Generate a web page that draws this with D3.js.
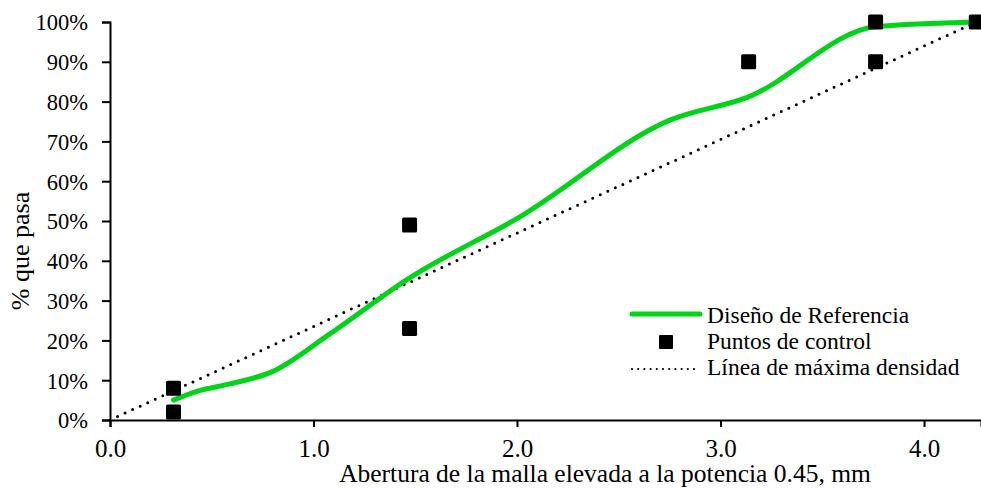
<!DOCTYPE html>
<meta charset='utf-8'>
<script src='https://cdn.jsdelivr.net/npm/d3@7'></script>
<style>
  body { margin: 0; background: #fff; }
</style>
<body>
<script>
// sieve openings raised to 0.45 and % passing of the reference design
var designX = [0.312, 0.426, 0.582, 0.795, 1.077, 1.472, 2.016, 2.754, 3.138, 3.762, 4.257];
var designY = [5, 7.2, 9, 12.1, 21.5, 35.7, 51.1, 75.4, 81.2, 98.8, 100];

// control points
var controlX = [0.312, 0.312, 1.472, 1.472, 3.138, 3.762, 3.762, 4.257];
var controlY = [2, 8, 23, 49, 90, 90, 100, 100];

// maximum density line
var densityX = [0, 4.257];
var densityY = [0, 100];

var xTicks = [0, 1, 2, 3, 4];
var yTicks = [0, 10, 20, 30, 40, 50, 60, 70, 80, 90, 100];

var legendLabels = ['Diseño de Referencia', 'Puntos de control', 'Línea de máxima densidad'];

var width = 981, height = 489;
var font = "Liberation Serif";
var svg = d3.select('body').append('svg').attr('width', width).attr('height', height);

var x = d3.scaleLinear().domain([0, 4.28]).range([110, 981]);
var y = d3.scaleLinear().domain([0, 100]).range([420, 22]);

var green = '#00d418';

// axes
var xAxis = svg.append('g').attr('transform', 'translate(0,420)')
    .call(d3.axisBottom(x).tickValues(xTicks).tickFormat(d3.format('.1f')).tickSizeOuter(0).tickSize(7).tickPadding(12));
var yAxis = svg.append('g').attr('transform', 'translate(110,0)')
    .call(d3.axisLeft(y).tickValues(yTicks).tickFormat(function(d) { return d + '%'; }).tickSizeOuter(0).tickSize(8).tickPadding(14));
[xAxis, yAxis].forEach(function(a) {
  a.attr('font-family', font);
  a.select('.domain').attr('stroke', '#000').attr('stroke-width', 2);
  a.selectAll('.tick line').attr('stroke', '#000').attr('stroke-width', 2);
  a.selectAll('.tick text').attr('fill', '#000');
});
xAxis.attr('font-size', 25);
yAxis.attr('font-size', 22.5);
yAxis.selectAll('.tick text').attr('dy', '0.35em');

// maximum density line
var dens = d3.range(densityX.length).map(function(i) { return [densityX[i], densityY[i]]; });
svg.append('path')
    .datum(dens)
    .attr('fill', 'none')
    .attr('stroke', '#000')
    .attr('stroke-width', 3)
    .attr('stroke-linecap', 'round')
    .attr('stroke-dasharray', '0,8.3')
    .attr('d', d3.line().x(function(d) { return x(d[0]); }).y(function(d) { return y(d[1]); }));

// design curve
var des = d3.range(designX.length).map(function(i) { return [designX[i], designY[i]]; });
svg.append('path')
    .datum(des)
    .attr('fill', 'none')
    .attr('stroke', green)
    .attr('stroke-width', 5)
    .attr('stroke-linecap', 'round')
    .attr('d', d3.line().curve(d3.curveMonotoneX)
      .x(function(d) { return x(d[0]); }).y(function(d) { return y(d[1]); }));

// control points
var sq = 15;
svg.append('g').selectAll('rect')
    .data(d3.range(controlX.length))
    .enter().append('rect')
    .attr('x', function(i) { return x(controlX[i]) - sq / 2; })
    .attr('y', function(i) { return y(controlY[i]) - sq / 2; })
    .attr('width', sq).attr('height', sq)
    .attr('rx', 1.5)
    .attr('fill', '#000');

// axis titles
svg.append('text')
    .attr('x', 605).attr('y', 482)
    .attr('text-anchor', 'middle')
    .attr('font-family', font).attr('font-size', 25.5)
    .text('Abertura de la malla elevada a la potencia 0.45, mm');
svg.append('text')
    .attr('transform', 'translate(29,251) rotate(-90)')
    .attr('text-anchor', 'middle')
    .attr('font-family', font).attr('font-size', 26)
    .text('% que pasa');

// legend
var lg = svg.append('g');
var ly = [315, 341, 367];
lg.append('line').attr('x1', 632).attr('x2', 700).attr('y1', 314).attr('y2', 314)
    .attr('stroke', green).attr('stroke-width', 5).attr('stroke-linecap', 'round');
lg.append('rect').attr('x', 666 - 7).attr('y', ly[1] - 6).attr('width', 14).attr('height', 14)
    .attr('rx', 1).attr('fill', '#000');
lg.append('line').attr('x1', 632).attr('x2', 700).attr('y1', 369).attr('y2', 369)
    .attr('stroke', '#000').attr('stroke-width', 2.2).attr('stroke-linecap', 'round').attr('stroke-dasharray', '0,6.2');
lg.selectAll('text.lbl')
    .data(legendLabels)
    .enter().append('text')
    .attr('class', 'lbl')
    .attr('x', 707)
    .attr('y', function(d, i) { return ly[i]; })
    .attr('dy', '0.35em')
    .attr('font-family', font).attr('font-size', 23.5)
    .text(function(d) { return d; });
</script>
</body>
